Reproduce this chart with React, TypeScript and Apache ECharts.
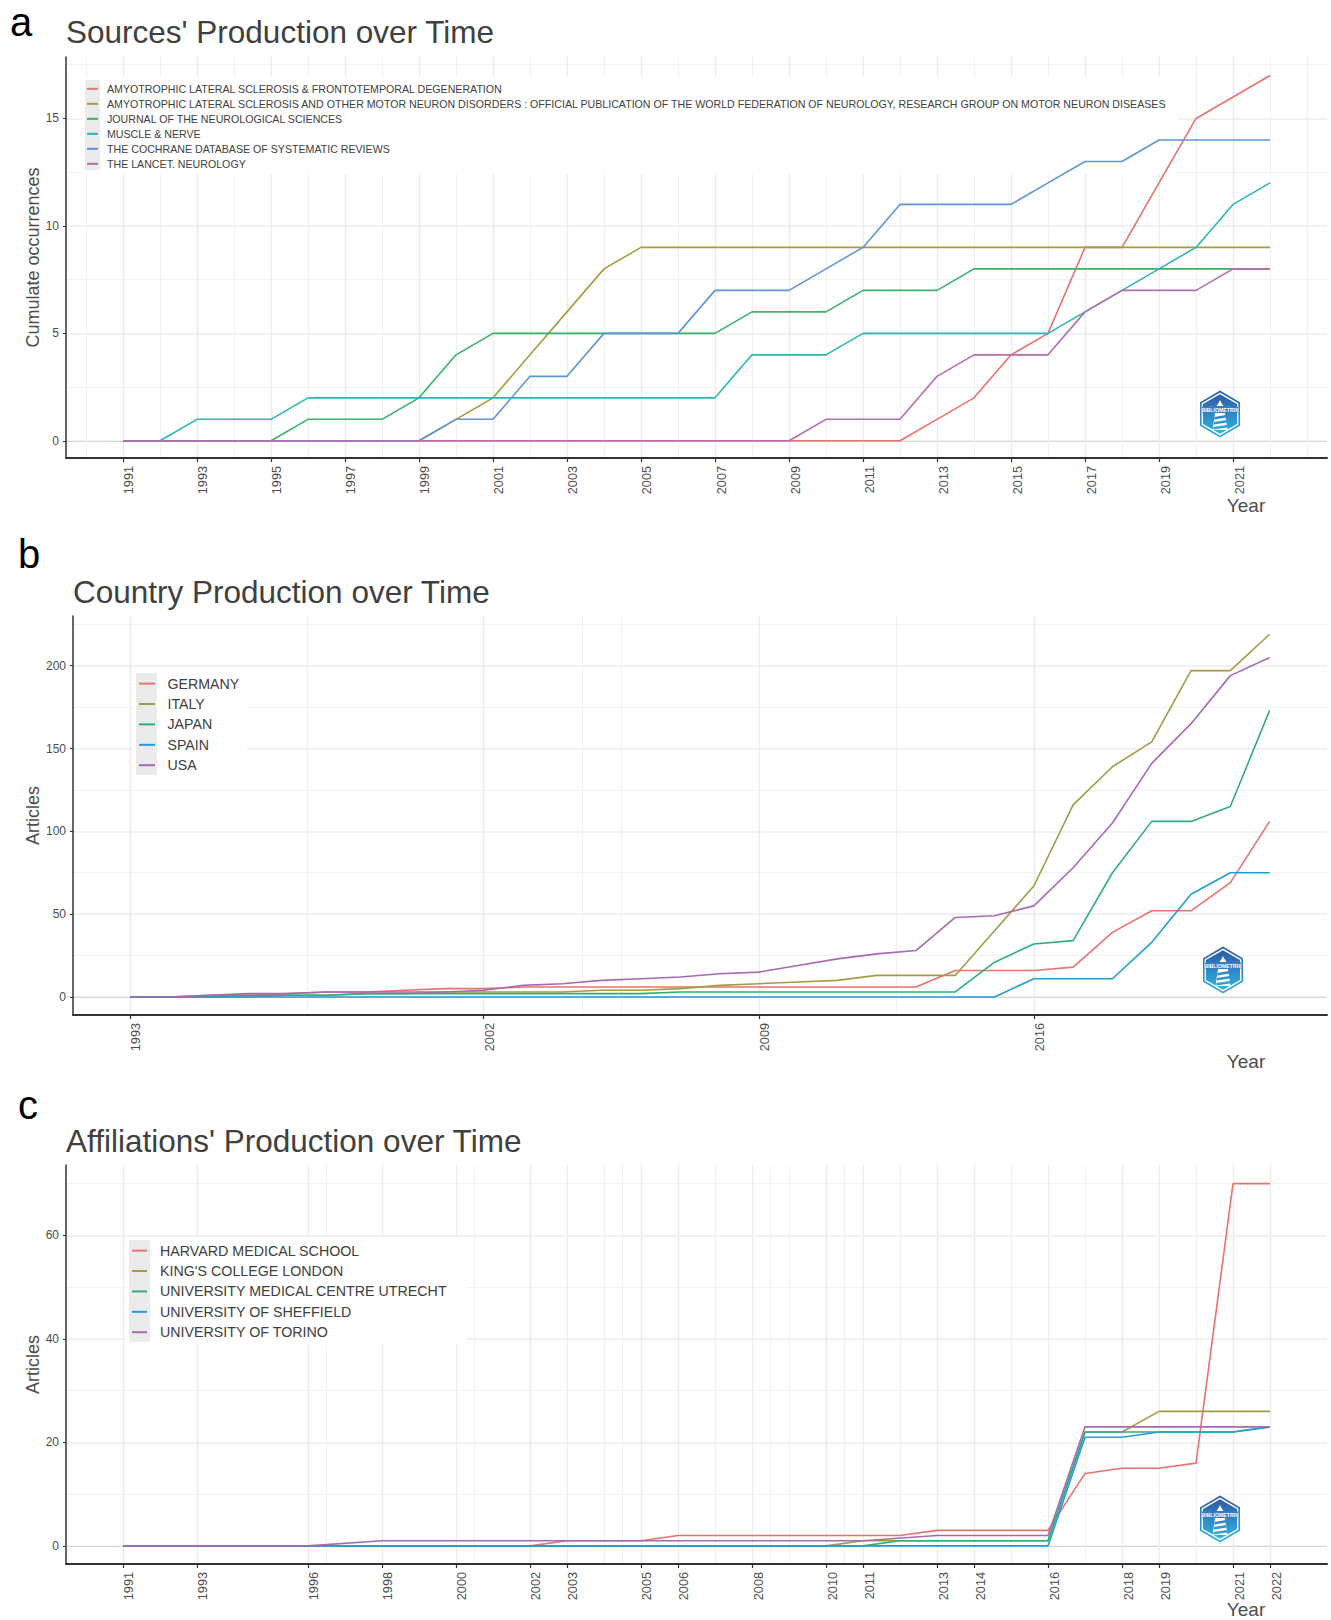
import React, { useEffect, useRef } from "react";
import * as echarts from "echarts";

const FONT = "'Liberation Sans', Arial, sans-serif";

// ---------- Panel a ----------
const yearsA = [1991,1992,1993,1994,1995,1996,1997,1998,1999,2000,2001,2002,2003,2004,2005,2006,2007,2008,2009,2010,2011,2012,2013,2014,2015,2016,2017,2018,2019,2020,2021,2022];
const alsFtd = [0,0,0,0,0,0,0,0,0,0,0,0,0,0,0,0,0,0,0,0,0,0,1,2,4,5,9,9,12,15,16,17];
const alsMnd = [0,0,0,0,0,0,0,0,0,1,2,4,6,8,9,9,9,9,9,9,9,9,9,9,9,9,9,9,9,9,9,9];
const jns = [0,0,0,0,0,1,1,1,2,4,5,5,5,5,5,5,5,6,6,6,7,7,7,8,8,8,8,8,8,8,8,8];
const muscle = [0,0,1,1,1,2,2,2,2,2,2,2,2,2,2,2,2,4,4,4,5,5,5,5,5,5,6,7,8,9,11,12];
const cochrane = [0,0,0,0,0,0,0,0,0,1,1,3,3,5,5,5,7,7,7,8,9,11,11,11,11,12,13,13,14,14,14,14];
const lancet = [0,0,0,0,0,0,0,0,0,0,0,0,0,0,0,0,0,0,0,1,1,1,3,4,4,4,6,7,7,7,8,8];
const namesA = [
  "AMYOTROPHIC LATERAL SCLEROSIS & FRONTOTEMPORAL DEGENERATION",
  "AMYOTROPHIC LATERAL SCLEROSIS AND OTHER MOTOR NEURON DISORDERS : OFFICIAL PUBLICATION OF THE WORLD FEDERATION OF NEUROLOGY, RESEARCH GROUP ON MOTOR NEURON DISEASES",
  "JOURNAL OF THE NEUROLOGICAL SCIENCES",
  "MUSCLE & NERVE",
  "THE COCHRANE DATABASE OF SYSTEMATIC REVIEWS",
  "THE LANCET. NEUROLOGY",
];
const colorsA = ["#E9736B", "#A99A3C", "#38B26A", "#2AB5B8", "#5E94D8", "#B56CB0"];
const ticksXA = [1991,1993,1995,1997,1999,2001,2003,2005,2007,2009,2011,2013,2015,2017,2019,2021];
const minorXA = [1990,1992,1994,1996,1998,2000,2002,2004,2006,2008,2010,2012,2014,2016,2018,2020,2022,2023];
const ticksYA = [0,5,10,15];
const minorYA = [2.5,7.5,12.5,17.5];

// ---------- Panel b ----------
const yearsB = [1993,1994,1995,1996,1997,1998,1999,2000,2001,2002,2003,2004,2005,2006,2007,2008,2009,2010,2011,2012,2013,2014,2015,2016,2017,2018,2019,2020,2021,2022];
const germany = [0,0,1,1,2,3,3,4,5,5,6,6,6,6,6,6,6,6,6,6,6,16,16,16,18,39,52,52,69,106];
const italy = [0,0,0,0,1,1,2,2,3,3,3,3,4,4,5,7,8,9,10,13,13,13,40,67,116,139,154,197,197,219];
const japan = [0,0,0,1,1,1,2,2,2,2,2,2,2,2,3,3,3,3,3,3,3,3,21,32,34,75,106,106,115,173];
const spain = [0,0,0,0,0,0,0,0,0,0,0,0,0,0,0,0,0,0,0,0,0,0,0,11,11,11,33,62,75,75];
const usa = [0,0,1,2,2,3,3,3,3,4,7,8,10,11,12,14,15,19,23,26,28,48,49,55,78,105,141,165,194,205];
const namesB = ["GERMANY", "ITALY", "JAPAN", "SPAIN", "USA"];
const colorsB = ["#E9736E", "#9E9E46", "#2FAE7C", "#1F9FD8", "#A769B3"];
const ticksXB = [1993,2002,2009,2016];
const minorXB = [1997.5,2004.5,2005.5,2012.5];
const ticksYB = [0,50,100,150,200];
const minorYB = [25,75,125,175,225];

// ---------- Panel c ----------
const yearsC = yearsA;
const harvard = [0,null,0,null,null,0,null,null,null,null,null,0,1,null,1,2,2,2,2,2,2,2,3,3,3,3,14,15,15,16,70,70];
const kings = [0,null,0,null,null,0,null,0,null,0,null,0,0,null,0,0,0,0,0,0,1,1,1,1,1,1,22,22,26,26,26,26];
const utrecht = [0,null,0,null,null,0,null,0,null,0,null,0,0,null,0,0,0,0,0,0,0,1,1,1,1,1,22,22,22,22,22,23];
const sheffield = [0,null,0,null,null,0,null,0,null,0,null,0,0,null,0,0,0,0,0,0,0,0,0,0,0,0,21,21,22,22,22,23];
const torino = [0,null,0,null,null,0,null,1,null,1,null,1,1,null,1,1,1,1,1,1,1,null,2,2,2,2,23,23,23,23,23,23];
const namesC = ["HARVARD MEDICAL SCHOOL", "KING'S COLLEGE LONDON", "UNIVERSITY MEDICAL CENTRE UTRECHT", "UNIVERSITY OF SHEFFIELD", "UNIVERSITY OF TORINO"];
const colorsC = colorsB;
const ticksXC = [1991,1993,1996,1998,2000,2002,2003,2005,2006,2008,2010,2011,2013,2014,2016,2018,2019,2021,2022];
const minorXC = [1996.5,2000.5,2004,2004.5,2007,2008.5,2009,2010.5,2012,2015,2017,2020];
const ticksYC = [0,20,40,60];
const minorYC = [10,30,50,70];

type Panel = {
  title: string; letter: string; yName: string;
  years: number[]; series: (number | null)[][]; names: string[]; colors: string[];
  ticksX: number[]; minorX: number[]; ticksY: number[]; minorY: number[];
  left: number; top: number; height: number;
  xMin: number; xMax: number; yMin: number; yMax: number;
  titleY: number; titleX: number; letterX: number; letterY: number; yearY: number;
  logoX: number; logoY: number;
  legend: { grayX: number; grayW: number; grayY: number; grayH: number; whiteW: number; whiteY: number; whiteH: number; whiteX: number; iconX: number; iconW: number; textTop: number; font: number; step: number; textPad: number };
};

const panels: Panel[] = [
  {
    title: "Sources' Production over Time", letter: "a", yName: "Cumulate occurrences",
    years: yearsA, series: [alsFtd, alsMnd, jns, muscle, cochrane, lancet], names: namesA, colors: colorsA,
    ticksX: ticksXA, minorX: minorXA, ticksY: ticksYA, minorY: minorYA,
    left: 66, top: 57, height: 401, xMin: 1989.46, xMax: 2023.54, yMin: -0.8, yMax: 17.86,
    titleX: 66, titleY: 33, letterX: 10, letterY: 26, yearY: 505, logoX: 1220, logoY: 414,
    legend: { whiteX: 82, whiteW: 1096, whiteY: 77, whiteH: 97, grayX: 85, grayW: 15, grayY: 80, grayH: 90, iconX: 87, iconW: 11, textTop: 83, font: 10.64, step: 15, textPad: 4 },
  },
  {
    title: "Country Production over Time", letter: "b", yName: "Articles",
    years: yearsB, series: [germany, italy, japan, spain, usa], names: namesB, colors: colorsB,
    ticksX: ticksXB, minorX: minorXB, ticksY: ticksYB, minorY: minorYB,
    left: 73, top: 616, height: 399, xMin: 1991.55, xMax: 2023.46, yMin: -10.9, yMax: 230,
    titleX: 73, titleY: 593, letterX: 18, letterY: 558, yearY: 1061, logoX: 1223, logoY: 970,
    legend: { whiteX: 133, whiteW: 114, whiteY: 670, whiteH: 108, grayX: 136, grayW: 21, grayY: 673, grayH: 102, iconX: 139, iconW: 16, textTop: 676, font: 14.2, step: 20.4, textPad: 7.5 },
  },
  {
    title: "Affiliations' Production over Time", letter: "c", yName: "Articles",
    years: yearsC, series: [harvard, kings, utrecht, sheffield, torino], names: namesC, colors: colorsC,
    ticksX: ticksXC, minorX: minorXC, ticksY: ticksYC, minorY: minorYC,
    left: 66, top: 1165, height: 399, xMin: 1989.46, xMax: 2023.54, yMin: -3.5, yMax: 73.6,
    titleX: 66, titleY: 1142, letterX: 18, letterY: 1109, yearY: 1609, logoX: 1220, logoY: 1519,
    legend: { whiteX: 126, whiteW: 340, whiteY: 1237, whiteH: 108, grayX: 129, grayW: 21, grayY: 1240, grayH: 102, iconX: 132, iconW: 15, textTop: 1243, font: 14.25, step: 20.4, textPad: 8 },
  },
];

function logo(cx: number, cy: number) {
  const grad = () => new echarts.graphic.LinearGradient(0, 0, 0, 1, [
    { offset: 0, color: "#2F5BA6" },
    { offset: 1, color: "#2DB4E4" },
  ]);
  const hex = (w: number, h: number) => [
    [0, -h], [w, -h * 0.5], [w, h * 0.5], [0, h], [-w, h * 0.5], [-w, -h * 0.5],
  ];
  return {
    type: "group", x: cx, y: cy, z: 3,
    children: [
      { type: "polygon", z: 3, shape: { points: hex(20, 23.5) }, style: { fill: grad() } },
      { type: "polygon", z: 3, shape: { points: hex(18.4, 21.4) }, style: { fill: "#ffffff" } },
      { type: "polygon", z: 3, shape: { points: hex(17, 19.8) }, style: { fill: grad() } },
      { type: "rect", z: 3, shape: { x: -18, y: -7.5, width: 36, height: 6 }, style: { fill: "#3C7CC0" } },
      { type: "text", z: 3, x: 0, y: -4.5, style: { text: "BIBLIOMETRIX", fontSize: 5.2, fontWeight: "bold", fontFamily: FONT, fill: "#ffffff", align: "center", verticalAlign: "middle" } },
      { type: "polygon", z: 3, shape: { points: [[-1.5, -11], [0, -14], [1.5, -11], [3.5, -8], [-3.5, -8]] }, style: { fill: "#ffffff" } },
      { type: "polygon", z: 3, shape: { points: [[-5, -1], [5, -1], [7.5, 16], [-7.5, 16]] }, style: { fill: "#ffffff" } },
      { type: "polygon", z: 3, shape: { points: [[-5.5, 3], [6, 1], [6.2, 3.5], [-5.7, 5.5]] }, style: { fill: "#2F86C8" } },
      { type: "polygon", z: 3, shape: { points: [[-6, 8], [6.5, 6], [6.8, 8.5], [-6.2, 10.5]] }, style: { fill: "#2F96D2" } },
      { type: "polygon", z: 3, shape: { points: [[-6.6, 13], [7, 11], [7.2, 13.5], [-6.8, 15.5]] }, style: { fill: "#2DA4DC" } },
    ],
  };
}

function buildOption() {
  const grid: any[] = [], xAxis: any[] = [], yAxis: any[] = [], series: any[] = [];
  const legend: any[] = [], title: any[] = [], graphic: any[] = [];

  panels.forEach((p, gi) => {
    grid.push({ left: p.left, right: 4, top: p.top, height: p.height, containLabel: false });

    const xBase = { gridIndex: gi, type: "value", min: p.xMin, max: p.xMax, position: "bottom" };
    const xMainIndex = xAxis.length;
    xAxis.push({
      ...xBase,
      axisLine: { show: true, onZero: false, lineStyle: { color: "#333333", width: 2 } },
      axisTick: { show: true, customValues: p.ticksX, length: 4, lineStyle: { color: "#333333", width: 1.2 } },
      axisLabel: {
        show: true, customValues: p.ticksX, rotate: 90, margin: 8, align: "right", verticalAlign: "top",
        formatter: (v: number) => String(v), fontSize: 12.7, color: "#4d4d4d", fontFamily: FONT,
      },
      splitLine: { show: true, lineStyle: { color: "#ececec", width: 1.3 } },
    });
    xAxis.push({
      ...xBase,
      axisLine: { show: false, onZero: false },
      axisTick: { show: false, customValues: p.minorX },
      axisLabel: { show: false, customValues: p.minorX },
      splitLine: { show: true, lineStyle: { color: "#f1f1f1", width: 1 } },
    });

    const yBase = { gridIndex: gi, type: "value", min: p.yMin, max: p.yMax };
    const yMainIndex = yAxis.length;
    yAxis.push({
      ...yBase,
      name: p.yName, nameLocation: "middle", nameGap: p.left - 42.3, nameMoveOverlap: false,
      nameTextStyle: { fontSize: 18, color: "#4d4d4d", fontFamily: FONT },
      axisLine: { show: true, onZero: false, lineStyle: { color: "#333333", width: 1.5 } },
      axisTick: { show: true, customValues: p.ticksY, length: 3, lineStyle: { color: "#333333", width: 1 } },
      axisLabel: {
        show: true, customValues: p.ticksY, margin: 7, formatter: (v: number) => String(v),
        fontSize: 12, color: "#4d4d4d", fontFamily: FONT,
      },
      splitLine: { show: true, lineStyle: { color: "#ececec", width: 1.5 } },
    });
    yAxis.push({
      ...yBase,
      axisLine: { show: false, onZero: false },
      axisTick: { show: false, customValues: p.minorY },
      axisLabel: { show: false, customValues: p.minorY },
      splitLine: { show: true, lineStyle: { color: "#f2f2f2", width: 1 } },
    });
    yAxis.push({
      ...yBase,
      axisLine: { show: false, onZero: false },
      axisTick: { show: false, customValues: [0] },
      axisLabel: { show: false, customValues: [0] },
      splitLine: { show: true, lineStyle: { color: "#d6d6d6", width: 1.2 } },
    });

    p.series.forEach((vals, i) => {
      series.push({
        type: "line", name: p.names[i], xAxisIndex: xMainIndex, yAxisIndex: yMainIndex,
        data: p.years.map((y, k) => [y, vals[k]]),
        symbol: "none", showSymbol: false, connectNulls: true, silent: true, color: p.colors[i],
        lineStyle: { color: p.colors[i], width: 1.6 },
      });
    });

    const L = p.legend;
    legend.push({
      orient: "vertical", left: L.iconX, top: L.textTop, padding: 0, selectedMode: false,
      data: p.names, icon: "rect", itemWidth: L.iconW, itemHeight: 2,
      itemGap: L.step - (L.font + 1), z: 4,
      textStyle: { fontSize: L.font, color: "#404040", fontFamily: FONT, lineHeight: L.font + 1, padding: [0, 0, 0, L.textPad] },
    });
    graphic.push({ type: "rect", z: 3, shape: { x: L.whiteX, y: L.whiteY, width: L.whiteW, height: L.whiteH }, style: { fill: "#ffffff" } });
    graphic.push({ type: "rect", z: 3, shape: { x: L.grayX, y: L.grayY, width: L.grayW, height: L.grayH }, style: { fill: "#ebebeb" } });

    graphic.push(logo(p.logoX, p.logoY));
    graphic.push({
      type: "text", x: 1246, y: p.yearY, z: 3,
      style: { text: "Year", fontSize: 19, fontFamily: FONT, fill: "#4d4d4d", align: "center", verticalAlign: "middle" },
    });

    title.push({
      text: p.title, left: p.titleX, top: p.titleY - 17, padding: 0,
      textStyle: { fontSize: 31.5, fontWeight: "normal", color: "#404040", fontFamily: FONT },
    });
    title.push({
      text: p.letter, left: p.letterX, top: p.letterY - 24, padding: 0,
      textStyle: { fontSize: 40, fontWeight: "normal", color: "#000000", fontFamily: FONT },
    });
  });

  return { animation: false, backgroundColor: "#ffffff", grid, xAxis, yAxis, series, legend, title, graphic: { elements: graphic } };
}

export default function App() {
  const ref = useRef<HTMLDivElement>(null);
  useEffect(() => {
    document.body.style.margin = "0";
    const chart = echarts.init(ref.current!, undefined, { renderer: "svg" });
    chart.setOption(buildOption() as any);
    return () => chart.dispose();
  }, []);
  return <div ref={ref} style={{ width: 1331, height: 1620 }} />;
}
